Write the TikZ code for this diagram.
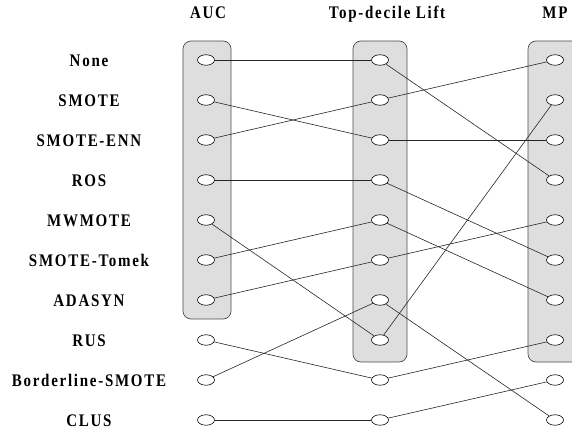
\documentclass[tikz,border=0pt]{standalone}
\usepackage{fontspec}
\usepackage{graphicx}
\setmainfont{Liberation Serif}
\usetikzlibrary{shapes.geometric}

\newcommand{\tallbf}[1]{\scalebox{1}[1.18]{#1}}

\tikzset{
  rank/.style={ellipse, draw, fill=white, line width=0.6bp, minimum width=17bp, minimum height=10.5bp, inner sep=0pt},
  group/.style={draw=black!70, fill=black!13, rounded corners=8bp, line width=0.7bp},
  link/.style={line width=0.6bp, black!85},
  lab/.style={font=\fontsize{15bp}{18bp}\selectfont\bfseries\addfontfeature{LetterSpace=11.5}, inner sep=0pt, anchor=base}
}

\begin{document}
\begin{tikzpicture}[x=1bp, y=-1bp]
    \useasboundingbox (0,0) rectangle (572,433);

    % Grey boxes round the top ranks of each measure
    \draw[group] (183,41) rectangle (231,319);
    \draw[group] (353,41) rectangle (407,362);
    \draw[group] (528,41) rectangle (590,362);

    % Column headers
    \node[lab] (hauc) at (208,19) {\tallbf{AUC}};
    \node[lab] (hlift) at (387,19) {\tallbf{Top-decile Lift}};
    \node[lab] (hmp) at (555,19) {\tallbf{MP}};

    % Method names and one rank ellipse per column
    \foreach \i/\name in {1/None, 2/SMOTE, 3/SMOTE-ENN, 4/ROS, 5/MWMOTE,
                          6/SMOTE-Tomek, 7/ADASYN, 8/RUS, 9/Borderline-SMOTE, 10/CLUS} {
        \node[lab] (t\i) at (89,{26.3+40*\i}) {\tallbf{\name}};
        \node[rank] (a\i) at (206,{20+40*\i}) {};
        \node[rank] (l\i) at (380,{20+40*\i}) {};
        \node[rank] (m\i) at (555,{20+40*\i}) {};
    }

    % AUC rank -> Top-decile Lift rank
    \foreach \p/\q in {1/1, 2/3, 3/2, 4/4, 5/8, 6/5, 7/6, 8/9, 9/7, 10/10}
        \draw[link] (a\p) -- (l\q);

    % Top-decile Lift rank -> MP rank
    \foreach \p/\q in {1/4, 2/1, 3/3, 4/6, 5/7, 6/5, 7/10, 8/2, 9/8, 10/9}
        \draw[link] (l\p) -- (m\q);
\end{tikzpicture}
\end{document}
